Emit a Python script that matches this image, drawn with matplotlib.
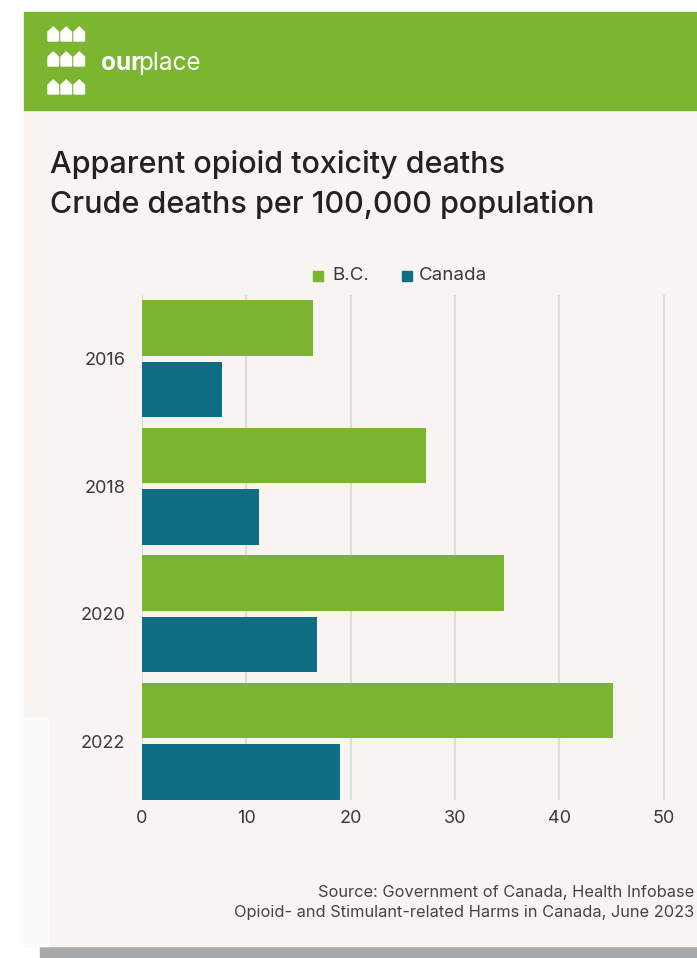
import numpy as np
import matplotlib.pyplot as plt
from matplotlib.patches import Rectangle, Polygon

years = ["2016", "2018", "2020", "2022"]
bc = [16.4, 27.2, 34.7, 45.1]
canada = [7.7, 11.2, 16.8, 19.0]
series_names = ["B.C.", "Canada"]
xticks = [0, 10, 20, 30, 40, 50]

green = "#7cb631"
teal = "#0f6e84"
card = "#f8f4f1"
text_col = "#3a3a3a"
W, H = 697, 958

plt.rcParams['font.family'] = ['Inter', 'DejaVu Sans']

fig = plt.figure(figsize=(W / 100, H / 100), dpi=100)
fig.patch.set_facecolor("white")

# background layer in pixel coordinates
bg = fig.add_axes([0, 0, 1, 1])
bg.set_xlim(0, W)
bg.set_ylim(H, 0)
bg.axis("off")
bg.add_patch(Rectangle((40, 946), W, 12, color="#a9a9a9", zorder=0))
bg.add_patch(Rectangle((24, 12), W, 934, color=card, zorder=1))
bg.add_patch(Rectangle((24, 717), 24, 229, color="#fbfbfc", zorder=1))
bg.add_patch(Rectangle((24, 12), W, 98, color=green, zorder=2))

# logo: 3x3 little houses
for r, yy in enumerate([27, 52, 80]):
    for c, xx in enumerate([48, 61, 74]):
        w, h = 10.5, 14
        pts = [(xx, yy + h), (xx, yy + 5), (xx + w / 2, yy), (xx + w, yy + 5), (xx + w, yy + h)]
        bg.add_patch(Polygon(pts, closed=True, color="white", zorder=3))
bg.text(101, 63, "our", color="white", fontsize=17.5, fontweight="bold", va="center", zorder=3)
bg.text(138, 63, "place", color="white", fontsize=17.5, va="center", zorder=3)

bg.text(50, 173, "Apparent opioid toxicity deaths", fontsize=22, fontweight="medium",
        color="#222222", va="baseline", zorder=3)
bg.text(50, 213, "Crude deaths per 100,000 population", fontsize=22, fontweight="medium",
        color="#222222", va="baseline", zorder=3)

bg.text(694, 893, "Source: Government of Canada, Health Infobase", fontsize=11.8, color="#444444",
        ha="right", va="center", zorder=3)
bg.text(694, 913, "Opioid- and Stimulant-related Harms in Canada, June 2023", fontsize=11.8,
        color="#444444", ha="right", va="center", zorder=3)

# legend
bg.add_patch(Rectangle((313, 271), 10, 10, color=green, zorder=3))
bg.text(332, 276, series_names[0], fontsize=13.5, color=text_col, va="center", zorder=3)
bg.add_patch(Rectangle((402, 271), 10, 10, color=teal, zorder=3))
bg.text(419, 276, series_names[1], fontsize=13.5, color=text_col, va="center", zorder=3)

# bar chart
ax = fig.add_axes([142 / W, (H - 800) / H, 626 / W, 505 / H])
ax.set_facecolor("none")
y = np.arange(len(years))
ax.barh(y - 0.24, bc, height=0.435, color=green, zorder=3)
ax.barh(y + 0.24, canada, height=0.435, color=teal, zorder=3)
ax.set_xlim(0, 60)
ax.set_ylim(3.46, -0.5)
ax.set_yticks(y)
ax.set_yticklabels(years)
ax.set_xticks(xticks)
ax.grid(axis="x", color="#dcdcdc", linewidth=1.5, zorder=0)
for s in ax.spines.values():
    s.set_visible(False)
ax.tick_params(length=0, labelsize=13, labelcolor=text_col)
ax.tick_params(axis="y", pad=12)
ax.tick_params(axis="x", pad=7)

fig.savefig("out.png", dpi=100, facecolor=fig.get_facecolor())
